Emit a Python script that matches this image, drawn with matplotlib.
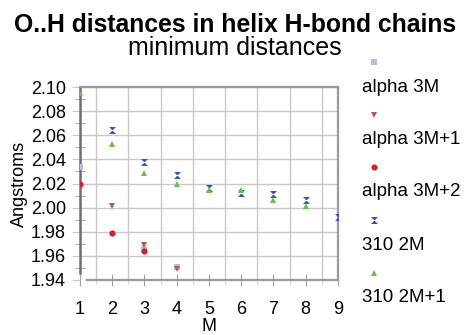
import matplotlib
matplotlib.use('Agg')
import matplotlib.pyplot as plt
from matplotlib.lines import Line2D
from matplotlib.ticker import MultipleLocator, FixedLocator

plt.rcParams['font.family'] = ['Liberation Sans', 'DejaVu Sans']

# data
a3m_x = [1, 3, 4]
a3m_y = [2.034, 1.966, 1.951]
a3m1_x = [2, 3, 4]
a3m1_y = [2.001, 1.969, 1.949]
a3m2_x = [1, 2, 3]
a3m2_y = [2.020, 1.979, 1.964]
h2m_x = [2, 3, 4, 5, 6, 7, 8, 9]
h2m_y = [2.064, 2.038, 2.027, 2.016, 2.012, 2.011, 2.006, 1.992]
h2m1_x = [1, 2, 3, 4, 5, 6, 7, 8]
h2m1_y = [2.095, 2.053, 2.029, 2.020, 2.015, 2.015, 2.006, 2.001]

labels = ['alpha 3M', 'alpha 3M+1', 'alpha 3M+2', '310 2M', '310 2M+1']

hourglass = [(-1, 1), (1, 1), (-1, -1), (1, -1), (-1, 1)]
styles = [
    dict(marker='s', color='#b4bce6', ms=4.5),
    dict(marker='v', color='#b45a5a', ms=5),
    dict(marker='o', color='#d8202c', ms=4.5),
    dict(marker=hourglass, color='#3552b0', ms=5),
    dict(marker='^', color='#62c246', ms=5),
]
series = [(a3m_x, a3m_y), (a3m1_x, a3m1_y), (a3m2_x, a3m2_y),
          (h2m_x, h2m_y), (h2m1_x, h2m1_y)]

fig = plt.figure(figsize=(4.75, 3.35), dpi=100)
ax = fig.add_axes([80/475, 1-280/335, 258/475, 193/335])

for (xs, ys), st in zip(series, styles):
    ax.plot(xs, ys, linestyle='none', markeredgewidth=0, zorder=3, **st)

ax.set_xlim(1, 9)
ax.set_ylim(1.94, 2.10)
ax.xaxis.set_major_locator(MultipleLocator(1))
ax.xaxis.set_minor_locator(FixedLocator([1.5, 2.5, 3.5, 4.5, 5.5, 6.5, 7.5, 8.5]))
ax.yaxis.set_major_locator(MultipleLocator(0.02))
ax.yaxis.set_minor_locator(MultipleLocator(0.01))
ax.yaxis.set_major_formatter(plt.FormatStrFormatter('%.2f'))

ax.grid(True, which='major', axis='y', color='#c8c8c8', lw=1)
ax.grid(True, which='minor', axis='x', color='#c8c8c8', lw=1)
ax.set_axisbelow(True)

ax.tick_params(axis='x', which='major', direction='inout', length=8,
               color='#a0a0a0', labelsize=13, pad=11)
ax.tick_params(axis='x', which='minor', direction='out', length=3,
               color='#c8c8c8')
ax.tick_params(axis='y', which='major', direction='out', length=6,
               color='#c8c8c8', labelsize=13, pad=4)
ax.tick_params(axis='y', which='minor', direction='inout', length=7,
               color='#a0a0a0')

for s in ['top', 'right', 'bottom']:
    ax.spines[s].set_color('#9a9a9a')
    ax.spines[s].set_linewidth(1.6)
ax.spines['left'].set_color('#6e6e6e')
ax.spines['left'].set_linewidth(1.8)
ax.spines['bottom'].set_bounds(1.22, 9)
ax.spines['left'].set_bounds(1.946, 2.10)

ax.set_xlabel('M', fontsize=13, labelpad=0)
ax.set_ylabel('Angstroms', fontsize=13, labelpad=2)

fig.text(0.495, 1-32/335, 'O..H distances in helix H-bond chains',
         ha='center', va='baseline', fontsize=17.8, fontweight='bold')
fig.text(0.495, 1-55/335, 'minimum distances',
         ha='center', va='baseline', fontsize=18)

# legend: marker above each label
mk_y = [62, 115, 167, 220, 273]
for lab, st, my in zip(labels, styles, mk_y):
    fig.add_artist(Line2D([374/475], [1-my/335], transform=fig.transFigure,
                          linestyle='none', markeredgewidth=0, **st))
    fig.text(362/475, 1-(my+25)/335, lab, ha='left', va='center', fontsize=13.5)

fig.savefig('out.png', dpi=100)
